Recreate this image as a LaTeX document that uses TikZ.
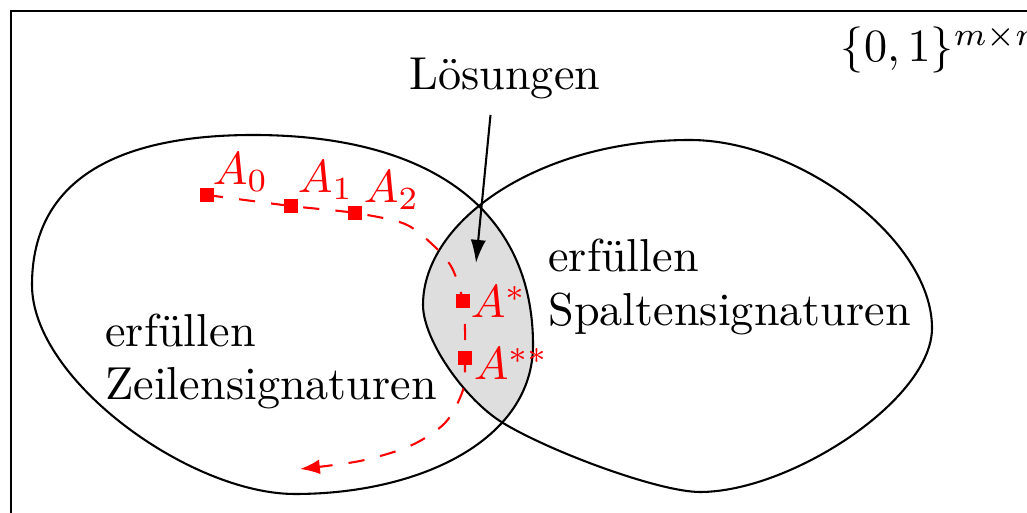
\documentclass[tikz,border=0pt]{standalone}
\usetikzlibrary{arrows.meta}
\begin{document}
\begin{tikzpicture}[x=0.2165pt,y=-0.2165pt,
  blob/.style={draw=black,line width=0.45pt},
  frameline/.style={draw=black,line width=0.45pt},
  redsq/.style={fill=red,minimum size=3pt,inner sep=0pt,outer sep=0pt},
  redlbl/.style={text=red,anchor=base west,inner sep=0pt},
  txt/.style={anchor=base west,inner sep=0pt},
  reddash/.style={draw=red,line width=0.45pt,dash pattern=on 3.5pt off 3.5pt},
  pointer/.style={draw=black,line width=0.45pt,-{Latex[length=5pt,width=3.3pt]}}]
\useasboundingbox (0,0) rectangle (1027,513);
\clip (0,0) rectangle (1027,513);
\def\leftblob{(253,135) .. controls (430,135) and (533,210) .. (533,345) .. controls (533,440) and (420,494) .. (295,494) .. controls (190,494) and (32,380) .. (32,285) .. controls (32,175) and (125,135) .. (253,135) -- cycle}
\def\rightblob{(423,305) .. controls (423,220) and (540,140) .. (690,140) .. controls (800,140) and (932,240) .. (932,328) .. controls (932,400) and (790,492) .. (700,492) .. controls (660,492) and (553,453) .. (503,423) .. controls (465,400) and (423,340) .. (423,305) -- cycle}
% frame
\draw[frameline] (11,530) -- (11,11) -- (1040,11);
% intersection
\begin{scope}
  \clip \leftblob;
  \fill[black!13] \rightblob;
\end{scope}
\path[blob] \leftblob;
\path[blob] \rightblob;
% texts
\node[txt] (space) at (840,62) {$\{0,1\}^{m\times n}$};
\node[txt] (loes) at (408.5,90) {Lösungen};
\node[txt] (zl1) at (104.5,347) {erfüllen};
\node[txt] (zl2) at (104.5,400) {Zeilensignaturen};
\node[txt] (sp1) at (547.5,272) {erfüllen};
\node[txt] (sp2) at (547.5,326) {Spaltensignaturen};
% pointer
\coordinate (arrStart) at (490.5,115);
\coordinate (arrTip) at (476,263);
\draw[pointer] (arrStart) -- (arrTip);
% red path
\coordinate (c0) at (207,195);
\coordinate (c1) at (291,206);
\coordinate (c2) at (355,213);
\coordinate (cs) at (463,301);
\coordinate (css) at (465,358);
\coordinate (cend) at (300,469);
\draw[reddash,-{Latex[length=4.3pt,width=3.2pt]}] plot[smooth] coordinates {(c0) (c1) (c2) (405,224) (434,246) (452,268) (cs) (465,330) (css) (463,390) (445,423) (410,446) (360,461) (cend)};
\node[redsq] (a0) at (c0) {};
\node[redsq] (a1) at (c1) {};
\node[redsq] (a2) at (c2) {};
\node[redsq] (as) at (cs) {};
\node[redsq] (ass) at (css) {};
\node[redlbl] (l0) at (212,185) {$A_0$};
\node[redlbl] (l1) at (297,193) {$A_1$};
\node[redlbl] (l2) at (363,203) {$A_2$};
\node[redlbl] (ls) at (470,318) {$A^*$};
\node[redlbl] (lss) at (473,380) {$A^{**}$};
\end{tikzpicture}
\end{document}
